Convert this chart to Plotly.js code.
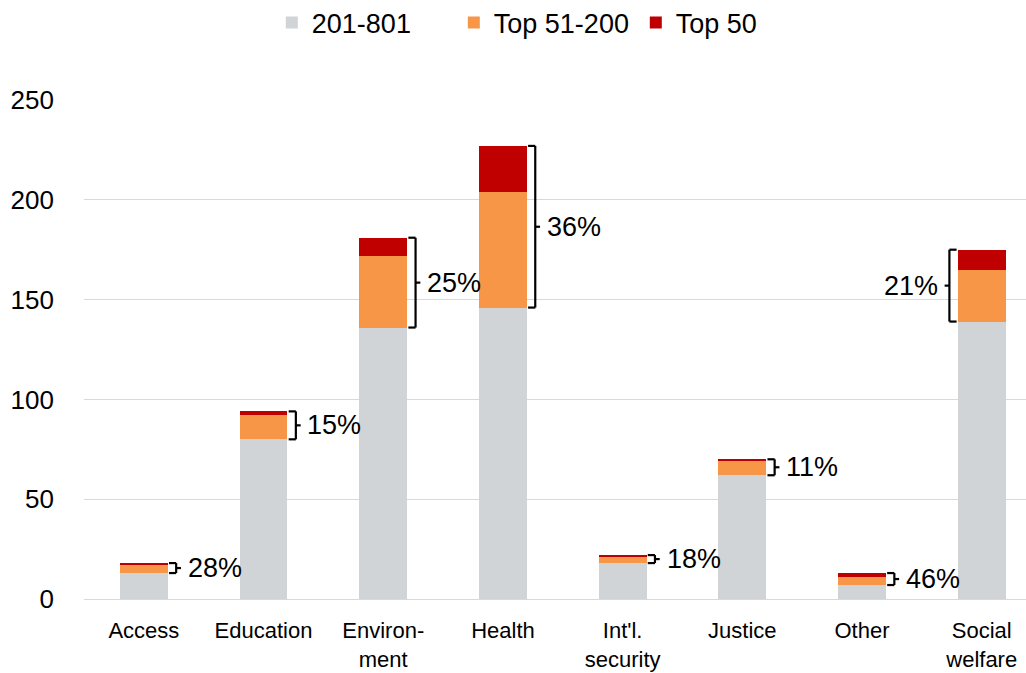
<!DOCTYPE html>
<html>
<head>
<meta charset="utf-8">
<script src="https://cdn.plot.ly/plotly-3.0.1.min.js"></script>
<style>html,body{margin:0;padding:0;background:#fff;}#chart{width:1026px;height:673px;}</style>
</head>
<body>
<div id="chart"></div>
<script>
// ---- data ----
const categories = ['Access', 'Education', 'Environ-<br>ment', 'Health', "Int'l.<br>security", 'Justice', 'Other', 'Social<br>welfare'];
const seriesNames = ['201-801', 'Top 51-200', 'Top 50'];
const rank201to801 = [13, 80, 136, 146, 18, 62, 7, 139];
const top51to200 = [4, 12, 36, 58, 3, 7, 4, 26];
const top50 = [1, 2, 9, 23, 1, 1, 2, 10];
const shareLabels = ['28%', '15%', '25%', '36%', '18%', '11%', '46%', '21%'];
const bracketOnLeft = [false, false, false, false, false, false, false, true];

// ---- styling ----
const colors = ['#D0D4D6', '#F79646', '#C00000'];
const idx = categories.map((_, i) => i);
const font = 'Liberation Sans, Arial, sans-serif';

const traces = [rank201to801, top51to200, top50].map((vals, k) => ({
  type: 'bar', x: idx, y: vals, name: seriesNames[k],
  marker: {color: colors[k], line: {width: 0}},
  hoverinfo: 'y'
}));

const shapes = [];
const annotations = [];
const half = 0.2;
idx.forEach(i => {
  const y0 = rank201to801[i];
  const y1 = rank201to801[i] + top51to200[i] + top50[i];
  const ym = (y0 + y1) / 2;
  const s = bracketOnLeft[i] ? -1 : 1;
  const xb = i + s * (half + 0.07);
  const xs = i + s * (half + 0.01);
  const xt = i + s * (half + 0.11);
  const line = {color: '#000', width: 2.2};
  shapes.push({type: 'line', xref: 'x', yref: 'y', x0: xb, x1: xb, y0: y0, y1: y1, line});
  shapes.push({type: 'line', xref: 'x', yref: 'y', x0: xs, x1: xb, y0: y0, y1: y0, line});
  shapes.push({type: 'line', xref: 'x', yref: 'y', x0: xs, x1: xb, y0: y1, y1: y1, line});
  shapes.push({type: 'line', xref: 'x', yref: 'y', x0: xb, x1: xt, y0: ym, y1: ym, line});
  annotations.push({
    xref: 'x', yref: 'y', x: i + s * (half + 0.15), y: ym,
    text: shareLabels[i], showarrow: false,
    xanchor: bracketOnLeft[i] ? 'right' : 'left', yanchor: 'middle',
    font: {family: font, size: 27, color: '#000'}
  });
});

const layout = {
  width: 1026, height: 673,
  margin: {l: 84, r: 0, t: 100, b: 74},
  paper_bgcolor: '#fff', plot_bgcolor: '#fff',
  barmode: 'stack', bargap: 0.6,
  font: {family: font, color: '#000'},
  showlegend: true,
  legend: {
    orientation: 'h', xref: 'container', x: 0.531, xanchor: 'center',
    yref: 'container', y: 0.966, yanchor: 'middle',
    font: {family: font, size: 27, color: '#000'},
    traceorder: 'normal', itemwidth: 30,
    entrywidthmode: 'pixels', entrywidth: 137
  },
  xaxis: {
    range: [-0.5, 7.37], tickvals: idx, ticktext: categories,
    showgrid: false, zeroline: false, showline: false, ticks: '',
    ticklabelstandoff: 16,
    tickfont: {family: font, size: 22, color: '#000'}, fixedrange: true
  },
  yaxis: {
    range: [0, 250], tickvals: [0, 50, 100, 150, 200, 250],
    showgrid: true, gridcolor: '#D9D9D9', gridwidth: 1,
    zeroline: true, zerolinecolor: '#D9D9D9', zerolinewidth: 1,
    showline: false, ticks: '', ticklabelstandoff: 29,
    tickfont: {family: font, size: 26, color: '#000'}, fixedrange: true
  },
  shapes, annotations
};

Plotly.newPlot('chart', traces, layout, {displayModeBar: false, staticPlot: true});
</script>
</body>
</html>
